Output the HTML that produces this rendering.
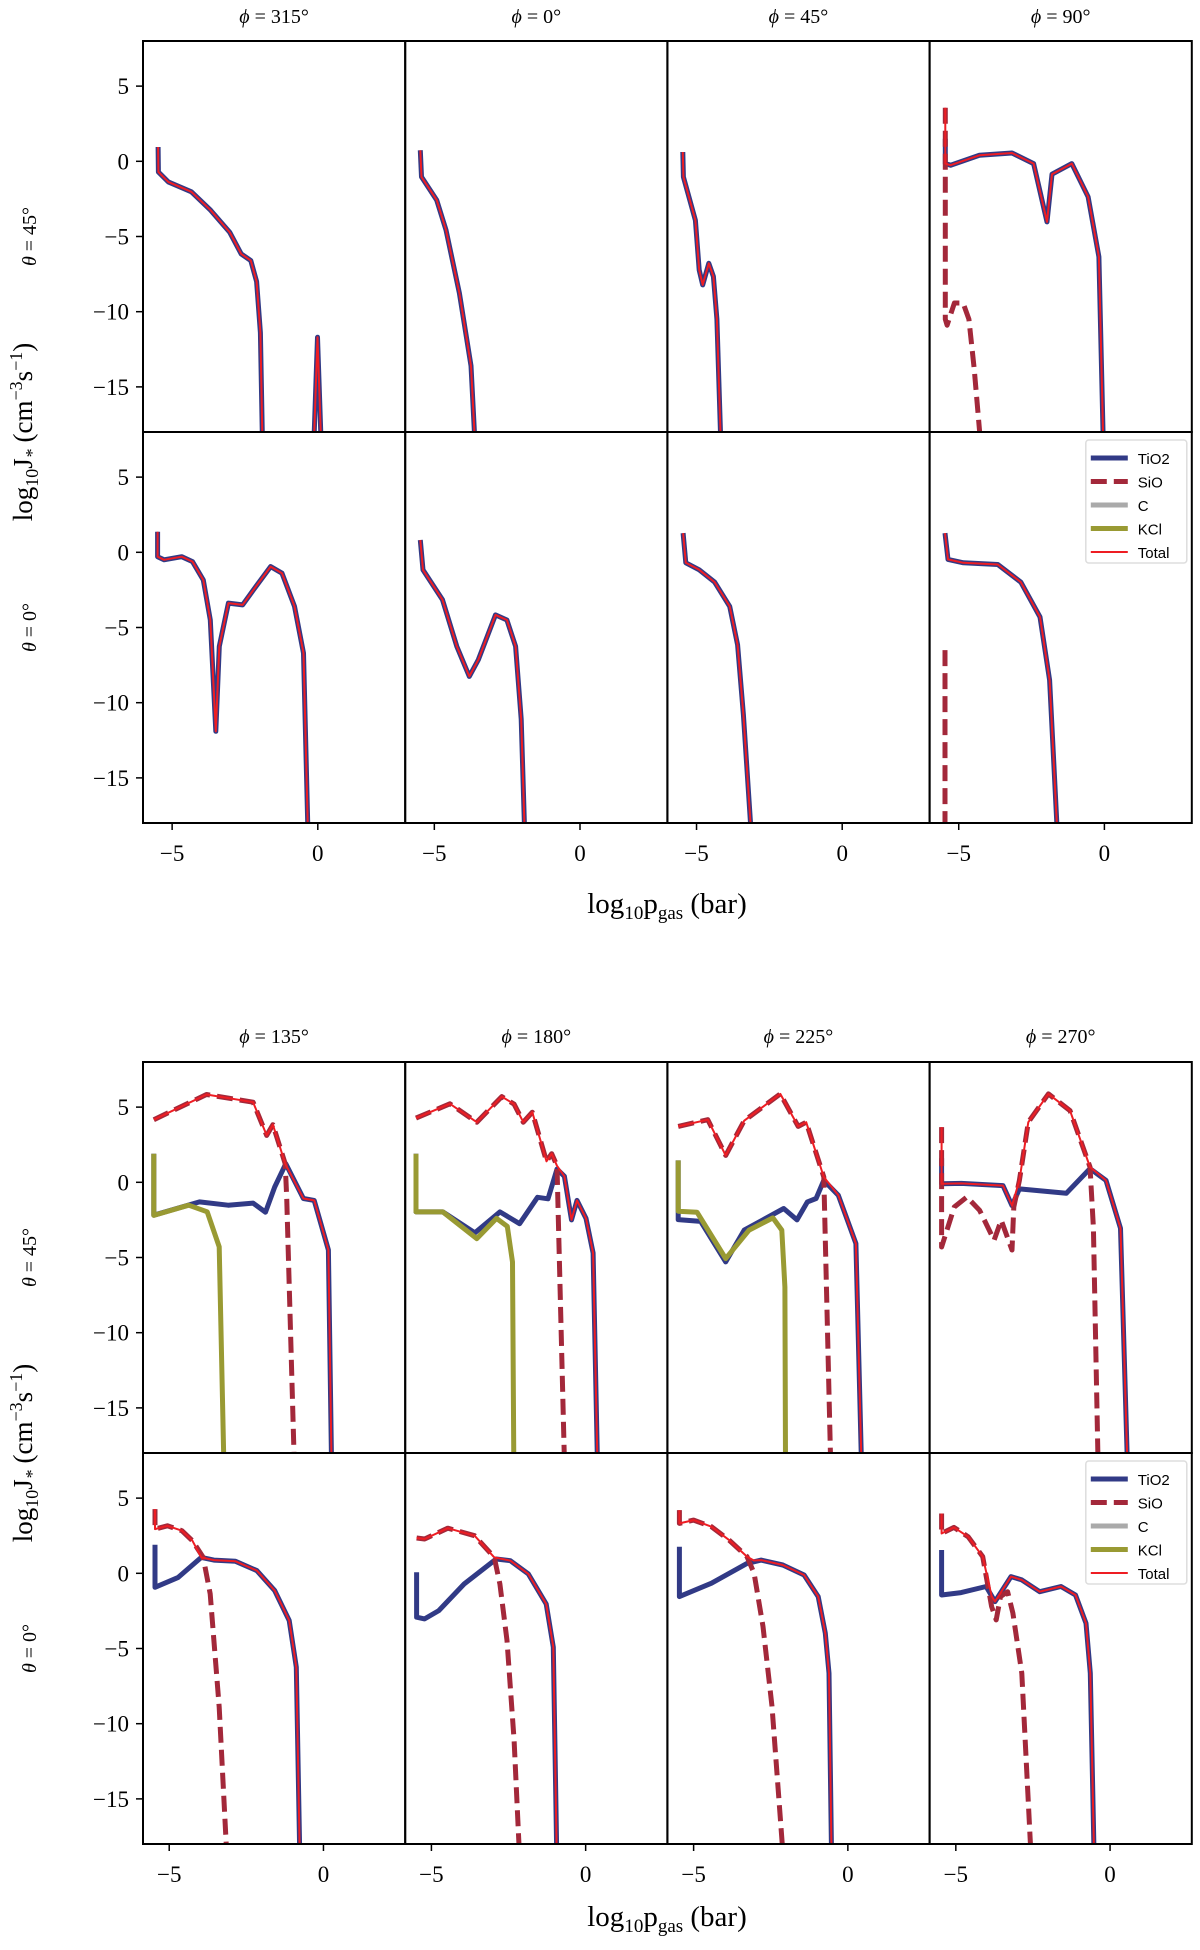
<!DOCTYPE html>
<html><head><meta charset="utf-8"><style>
html,body{margin:0;padding:0;background:#fff;}
svg{display:block;}
text{font-family:"Liberation Serif","DejaVu Serif",serif;fill:#000;}
.leg text{font-family:"Liberation Sans","DejaVu Sans",sans-serif;}
</style></head><body>
<svg id="fig" width="1200" height="1950" viewBox="0 0 1200 1950" xmlns="http://www.w3.org/2000/svg"></svg>
<script>
// ---- data: [log10 p_gas, log10 J] ----
const topPhis = ["315","0","45","90"];
const botPhis = ["135","180","225","270"];
const thetas = ["45","0"];
const yTicks = [5,0,-5,-10,-15];
const xTicks = [-5,0];

const p315_t45_tio2 = [[-5.48,0.95],[-5.47,-0.71],[-5.13,-1.37],[-4.34,-2.03],[-3.68,-3.25],[-3.02,-4.73],[-2.63,-6.16],[-2.3,-6.6],[-2.1,-8.0],[-1.97,-11.4],[-1.9,-18.5]];
const p315_t45_spike = [[-0.13,-18.5],[-0.01,-11.7],[0.11,-18.5]];
const p0_t45_tio2 = [[-5.48,0.73],[-5.44,-1.04],[-4.92,-2.58],[-4.6,-4.57],[-4.14,-8.77],[-3.74,-13.6],[-3.61,-18.5]];
const p45_t45_tio2 = [[-5.47,0.62],[-5.45,-1.04],[-5.04,-3.92],[-4.91,-7.23],[-4.79,-8.22],[-4.58,-6.78],[-4.42,-7.66],[-4.3,-10.5],[-4.17,-18.5]];
const p90_t45_tio2 = [[-5.46,1.5],[-5.46,-0.15],[-5.28,-0.26],[-4.29,0.4],[-3.17,0.55],[-2.43,-0.15],[-1.97,-4.03],[-1.8,-0.86],[-1.12,-0.15],[-0.56,-2.36],[-0.19,-6.35],[-0.04,-18.5]];
const p90_t45_sio = [[-5.46,3.56],[-5.46,-10.5],[-5.4,-10.9],[-5.15,-9.42],[-4.85,-9.42],[-4.65,-10.5],[-4.47,-13.8],[-4.26,-18.5]];
const p90_t45_total = [[-5.46,3.56],[-5.46,-0.15],[-5.28,-0.26],[-4.29,0.4],[-3.17,0.55],[-2.43,-0.15],[-1.97,-4.03],[-1.8,-0.86],[-1.12,-0.15],[-0.56,-2.36],[-0.19,-6.35],[-0.04,-18.5]];

const p315_t0_tio2 = [[-5.5,1.37],[-5.5,-0.29],[-5.28,-0.5],[-4.67,-0.29],[-4.3,-0.62],[-3.93,-1.84],[-3.69,-4.5],[-3.5,-11.9],[-3.38,-6.26],[-3.07,-3.38],[-2.58,-3.5],[-2.21,-2.5],[-1.62,-0.95],[-1.23,-1.39],[-0.8,-3.6],[-0.49,-6.7],[-0.34,-18.5]];
const p0_t0_tio2 = [[-5.48,0.82],[-5.39,-1.17],[-4.72,-3.16],[-4.23,-6.26],[-3.8,-8.25],[-3.49,-7.15],[-2.9,-4.16],[-2.51,-4.5],[-2.21,-6.26],[-2.02,-11.1],[-1.9,-18.5]];
const p45_t0_tio2 = [[-5.46,1.28],[-5.37,-0.7],[-4.91,-1.16],[-4.38,-1.98],[-3.86,-3.6],[-3.59,-6.16],[-3.39,-10.8],[-3.13,-18.5]];
const p90_t0_tio2 = [[-5.47,1.28],[-5.37,-0.47],[-4.84,-0.7],[-3.66,-0.81],[-2.87,-1.98],[-2.21,-4.3],[-1.88,-8.5],[-1.62,-18.5]];
const p90_t0_sio = [[-5.47,-6.5],[-5.47,-18.5]];

const p135_t45_tio2 = [[-5.5,1.9],[-5.5,-2.19],[-4.02,-1.3],[-3.09,-1.52],[-2.28,-1.38],[-1.88,-1.99],[-1.58,-0.31],[-1.22,1.24],[-0.65,-1.08],[-0.3,-1.2],[0.16,-4.5],[0.26,-18.5]];
const p135_t45_sio = [[-5.5,4.16],[-3.79,5.84],[-2.28,5.33],[-1.84,3.12],[-1.64,3.83],[-1.24,1.24],[-1.19,-1.0],[-0.95,-18.5]];
const p135_t45_kcl = [[-5.5,1.9],[-5.5,-2.2],[-4.37,-1.52],[-3.77,-1.96],[-3.38,-4.29],[-3.23,-18.5]];
const p135_t45_total = [[-5.5,4.16],[-3.79,5.84],[-2.28,5.33],[-1.84,3.12],[-1.64,3.83],[-1.24,1.24],[-0.65,-1.08],[-0.3,-1.2],[0.16,-4.5],[0.26,-18.5]];

const p180_t45_tio2 = [[-5.5,1.9],[-5.5,-1.97],[-4.63,-1.97],[-3.59,-3.36],[-2.78,-1.97],[-2.14,-2.75],[-1.56,-1.0],[-1.22,-1.1],[-0.93,0.88],[-0.69,0.4],[-0.46,-2.5],[-0.28,-1.2],[0.01,-2.4],[0.24,-4.7],[0.38,-18.5]];
const p180_t45_sio = [[-5.5,4.27],[-4.4,5.22],[-3.53,4.0],[-2.72,5.7],[-2.32,5.2],[-2.02,4.0],[-1.73,4.66],[-1.27,1.4],[-1.1,1.9],[-0.93,1.1],[-0.69,-18.5]];
const p180_t45_kcl = [[-5.5,1.9],[-5.5,-1.97],[-4.63,-1.97],[-3.53,-3.74],[-2.89,-2.4],[-2.54,-2.93],[-2.37,-5.3],[-2.33,-18.5]];
const p180_t45_total = [[-5.5,4.27],[-4.4,5.22],[-3.53,4.0],[-2.72,5.7],[-2.32,5.2],[-2.02,4.0],[-1.73,4.66],[-1.27,1.4],[-1.1,1.9],[-0.93,1.1],[-0.69,0.4],[-0.46,-2.5],[-0.28,-1.2],[0.01,-2.4],[0.24,-4.7],[0.38,-18.5]];

const p225_t45_tio2 = [[-5.5,1.46],[-5.5,-2.48],[-4.77,-2.6],[-3.96,-5.29],[-3.36,-3.18],[-2.08,-1.74],[-1.65,-2.5],[-1.31,-1.3],[-1.03,-1.08],[-0.78,0.13],[-0.31,-0.86],[0.26,-4.07],[0.44,-18.5]];
const p225_t45_sio = [[-5.5,3.72],[-4.54,4.16],[-3.96,1.79],[-3.36,4.1],[-2.19,5.88],[-1.61,3.72],[-1.35,4.0],[-0.78,0.35],[-0.56,-18.5]];
const p225_t45_kcl = [[-5.5,1.46],[-5.5,-1.92],[-4.89,-1.99],[-3.96,-5.07],[-3.2,-3.18],[-2.43,-2.37],[-2.14,-3.18],[-2.04,-6.96],[-2.02,-18.5]];
const p225_t45_total = [[-5.5,3.72],[-4.54,4.16],[-3.96,1.79],[-3.36,4.1],[-2.19,5.88],[-1.61,3.72],[-1.35,4.0],[-0.78,0.35],[-0.31,-0.86],[0.26,-4.07],[0.44,-18.5]];

const p270_t45_tio2 = [[-5.46,1.6],[-5.46,-0.09],[-4.82,-0.07],[-3.47,-0.22],[-3.18,-1.55],[-2.94,-0.44],[-1.42,-0.73],[-0.65,0.91],[-0.13,0.13],[0.34,-3.06],[0.56,-18.5]];
const p270_t45_sio = [[-5.46,3.67],[-5.46,-4.3],[-5.05,-1.64],[-4.64,-0.98],[-4.23,-1.86],[-3.76,-3.85],[-3.53,-2.52],[-3.18,-4.5],[-3.12,-1.64],[-2.94,0.13],[-2.65,4.0],[-2.0,5.88],[-1.3,4.77],[-0.65,1.02],[-0.54,-3.0],[-0.39,-18.5]];
const p270_t45_total = [[-5.46,3.67],[-5.46,-0.09],[-4.82,-0.07],[-3.47,-0.22],[-3.18,-1.55],[-2.94,0.13],[-2.65,4.0],[-2.0,5.88],[-1.3,4.77],[-0.65,1.02],[-0.13,0.13],[0.34,-3.06],[0.56,-18.5]];

const p135_t0_tio2 = [[-5.46,1.9],[-5.46,-0.93],[-4.71,-0.27],[-3.96,1.06],[-3.55,0.88],[-2.85,0.8],[-2.16,0.18],[-1.58,-1.15],[-1.11,-3.14],[-0.88,-6.24],[-0.77,-18.5]];
const p135_t0_sio = [[-5.46,4.27],[-5.46,2.94],[-5.06,3.16],[-4.59,2.83],[-4.25,2.17],[-3.9,1.06],[-3.67,-1.37],[-3.55,-4.47],[-3.38,-8.9],[-3.14,-18.5]];
const p135_t0_total = [[-5.46,4.27],[-5.46,2.94],[-5.06,3.16],[-4.59,2.83],[-4.25,2.17],[-3.96,1.06],[-3.55,0.88],[-2.85,0.8],[-2.16,0.18],[-1.58,-1.15],[-1.11,-3.14],[-0.88,-6.24],[-0.77,-18.5]];

const p180_t0_tio2 = [[-5.48,0.07],[-5.48,-2.92],[-5.22,-3.03],[-4.76,-2.48],[-3.94,-0.71],[-2.9,0.95],[-2.44,0.84],[-1.86,-0.04],[-1.28,-2.04],[-1.05,-4.91],[-0.94,-18.5]];
const p180_t0_sio = [[-5.48,2.35],[-5.22,2.28],[-4.47,3.0],[-3.6,2.5],[-2.96,1.06],[-2.78,-0.71],[-2.55,-4.47],[-2.32,-11.1],[-2.15,-18.5]];
const p180_t0_total = [[-5.48,2.35],[-5.22,2.28],[-4.47,3.0],[-3.6,2.5],[-2.96,1.06],[-2.44,0.84],[-1.86,-0.04],[-1.28,-2.04],[-1.05,-4.91],[-0.94,-18.5]];

const p225_t0_tio2 = [[-5.46,1.77],[-5.46,-1.55],[-4.42,-0.66],[-3.27,0.66],[-2.81,0.88],[-2.11,0.55],[-1.42,-0.11],[-0.96,-1.55],[-0.73,-3.98],[-0.61,-6.64],[-0.53,-18.5]];
const p225_t0_sio = [[-5.46,4.2],[-5.46,3.32],[-5.0,3.54],[-4.42,3.1],[-3.85,2.21],[-3.27,1.11],[-3.04,0.0],[-2.75,-3.54],[-2.46,-8.85],[-2.11,-18.5]];
const p225_t0_total = [[-5.46,4.2],[-5.46,3.32],[-5.0,3.54],[-4.42,3.1],[-3.85,2.21],[-3.27,1.11],[-3.05,0.85],[-2.81,0.88],[-2.11,0.55],[-1.42,-0.11],[-0.96,-1.55],[-0.73,-3.98],[-0.61,-6.64],[-0.53,-18.5]];

const p270_t0_tio2 = [[-5.46,1.55],[-5.46,-1.44],[-4.83,-1.28],[-4.02,-0.88],[-3.73,-1.88],[-3.21,-0.22],[-2.86,-0.44],[-2.28,-1.22],[-1.59,-0.88],[-1.12,-1.44],[-0.78,-3.32],[-0.64,-6.64],[-0.52,-18.5]];
const p270_t0_sio = [[-5.46,3.98],[-5.46,2.65],[-5.06,3.05],[-4.6,2.43],[-4.13,1.11],[-3.84,-2.21],[-3.69,-3.1],[-3.55,-1.55],[-3.32,-1.22],[-3.15,-2.65],[-2.86,-6.64],[-2.57,-18.5]];
const p270_t0_total = [[-5.46,3.98],[-5.46,2.65],[-5.06,3.05],[-4.6,2.43],[-4.13,1.11],[-3.84,-1.5],[-3.73,-1.88],[-3.21,-0.22],[-2.86,-0.44],[-2.28,-1.22],[-1.59,-0.88],[-1.12,-1.44],[-0.78,-3.32],[-0.64,-6.64],[-0.52,-18.5]];

const figures = [
  {phis: topPhis, top: 41, xmin: -6, xmax: 3, titleY: 23, tickLabelY: 861, xlabelY: 913, panels: [
    [{tio2:p315_t45_tio2, extra:p315_t45_spike},{tio2:p0_t45_tio2},{tio2:p45_t45_tio2},{tio2:p90_t45_tio2, sio:p90_t45_sio, total:p90_t45_total}],
    [{tio2:p315_t0_tio2},{tio2:p0_t0_tio2},{tio2:p45_t0_tio2},{tio2:p90_t0_tio2, sio:p90_t0_sio, legend:true}]]},
  {phis: botPhis, top: 1062, xmin: -5.85, xmax: 2.65, titleY: 1043, tickLabelY: 1882, xlabelY: 1926, panels: [
    [{tio2:p135_t45_tio2, sio:p135_t45_sio, kcl:p135_t45_kcl, total:p135_t45_total},{tio2:p180_t45_tio2, sio:p180_t45_sio, kcl:p180_t45_kcl, total:p180_t45_total},{tio2:p225_t45_tio2, sio:p225_t45_sio, kcl:p225_t45_kcl, total:p225_t45_total},{tio2:p270_t45_tio2, sio:p270_t45_sio, total:p270_t45_total}],
    [{tio2:p135_t0_tio2, sio:p135_t0_sio, total:p135_t0_total},{tio2:p180_t0_tio2, sio:p180_t0_sio, total:p180_t0_total},{tio2:p225_t0_tio2, sio:p225_t0_sio, total:p225_t0_total},{tio2:p270_t0_tio2, sio:p270_t0_sio, total:p270_t0_total, legend:true}]]}
];

// ---- layout ----
const X0 = 143, PW = 262.2, PH = 391, YMIN = -18, YMAX = 8;
const C_TIO2 = "#313a86", C_SIO = "#a3283a", C_KCL = "#999a33", C_C = "#aaaaaa", C_TOT = "#ee1d23";
const NS = "http://www.w3.org/2000/svg";
const svg = document.getElementById("fig");
function el(tag, attrs, parent){ const e = document.createElementNS(NS, tag); for (const k in attrs) e.setAttribute(k, attrs[k]); (parent||svg).appendChild(e); return e; }
function fmt(v){ return v < 0 ? "\u2212" + Math.abs(v) : String(v); }

const defs = el("defs", {});
figures.forEach((fig, fi) => {
  const fg = el("g", {});
  
  
  const xs = v => (v - fig.xmin) / (fig.xmax - fig.xmin) * PW;
  fig.phis.forEach((ph, c) => {
    const t = el("text", {x: X0 + c*PW + PW/2, y: fig.titleY, "font-size": 20, "text-anchor": "middle"}, fg);
    
    
    t.innerHTML = '<tspan font-style="italic">\u03d5</tspan> = ' + ph + '\u00b0';
  });
  fig.panels.forEach((row, r) => {
    const py = fig.top + r*PH;
    const ys = v => (YMAX - v) / (YMAX - YMIN) * PH;
    const rl = el("text", {transform: `translate(36,${py+PH/2}) rotate(-90)`, "font-size": 20, "text-anchor": "middle"}, fg);
    
    
    rl.innerHTML = '<tspan font-style="italic">\u03b8</tspan> = ' + thetas[r] + '\u00b0';
    yTicks.forEach(v => {
      const yy = py + ys(v);
      const tk = el("line", {x1: X0-7, x2: X0, y1: yy, y2: yy, stroke: "#000", "stroke-width": 1.5}, fg);
      
      
      const tl = el("text", {x: X0-14, y: yy+8, "font-size": 23, "text-anchor": "end"}, fg);
      
      
      tl.textContent = fmt(v);
    });
    row.forEach((pd, c) => {
      const px = X0 + c*PW;
      const id = `clip${fi}${r}${c}`;
      const cp = el("clipPath", {id}, defs);
      el("rect", {x: px, y: py, width: PW, height: PH}, cp);
      const g = el("g", {"clip-path": `url(#${id})`}, fg);
      
      
      const pts = a => a.map(p => (px + xs(p[0])).toFixed(1) + "," + (py + ys(p[1])).toFixed(1)).join(" ");
      const line = (arr, name, attrs) => {
        const pl = el("polyline", Object.assign({points: pts(arr), fill: "none", "stroke-linejoin": "round"}, attrs), g);
        
        
      };
      if (pd.tio2) line(pd.tio2, 'tio2-line', {stroke: C_TIO2, "stroke-width": 5});
      if (pd.extra) line(pd.extra, 'tio2-spike', {stroke: C_TIO2, "stroke-width": 5});
      if (pd.kcl) line(pd.kcl, 'kcl-line', {stroke: C_KCL, "stroke-width": 5});
      if (pd.sio) line(pd.sio, 'sio-line', {stroke: C_SIO, "stroke-width": 5, "stroke-dasharray": "16,7"});
      line(pd.total || pd.tio2, 'total-line', {stroke: C_TOT, "stroke-width": 2});
      if (pd.extra) line(pd.extra, 'total-spike', {stroke: C_TOT, "stroke-width": 2});
      const fr = el("rect", {x: px, y: py, width: PW, height: PH, fill: "none", stroke: "#000", "stroke-width": 2}, fg);
      
      
      if (r === 1) {
        xTicks.forEach(v => {
          const xx = px + xs(v);
          const tk = el("line", {x1: xx, x2: xx, y1: py+PH, y2: py+PH+7, stroke: "#000", "stroke-width": 1.5}, fg);
          
          
          const tl = el("text", {x: xx, y: fig.tickLabelY, "font-size": 23, "text-anchor": "middle"}, fg);
          
          
          tl.textContent = fmt(v);
        });
      }
      if (pd.legend) {
        const lg = el("g", {class: "leg"}, fg);
        
        
        const lx = px + PW - 106, ly = py + 8;
        el("rect", {x: lx, y: ly, width: 101, height: 123, rx: 3, fill: "#fff", stroke: "#ddd", "stroke-width": 1.5}, lg);
        const entries = [["TiO2", C_TIO2, 5, null], ["SiO", C_SIO, 5, "16,7"], ["C", C_C, 5, null], ["KCl", C_KCL, 5, null], ["Total", C_TOT, 2, null]];
        entries.forEach((en, i) => {
          const ey = ly + 18 + i*23.5;
          const ent = el("g", {}, lg);
          
          
          const a = {x1: lx+5, x2: lx+42, y1: ey, y2: ey, stroke: en[1], "stroke-width": en[2]};
          if (en[3]) a["stroke-dasharray"] = en[3];
          el("line", a, ent);
          const tx = el("text", {x: lx+52, y: ey+6, "font-size": 15}, ent);
          tx.textContent = en[0];
        });
      }
    });
  });
  const yl = el("text", {transform: `translate(32,${fig.top+PH}) rotate(-90)`, "font-size": 27, "text-anchor": "middle"}, fg);
  
  
  yl.innerHTML = 'log<tspan font-size="18" dy="6">10</tspan><tspan dy="-6">J</tspan><tspan font-size="18" dy="6" font-style="italic">*</tspan><tspan dy="-6"> (cm</tspan><tspan font-size="18" dy="-10">\u22123</tspan><tspan dy="10">s</tspan><tspan font-size="18" dy="-10">\u22121</tspan><tspan dy="10">)</tspan>';
  const xl = el("text", {x: 667, y: fig.xlabelY, "font-size": 29, "text-anchor": "middle"}, fg);
  
  
  xl.innerHTML = 'log<tspan font-size="19" dy="6">10</tspan><tspan dy="-6">p</tspan><tspan font-size="19" dy="6">gas</tspan><tspan dy="-6"> (bar)</tspan>';
});
</script>
</body></html>
